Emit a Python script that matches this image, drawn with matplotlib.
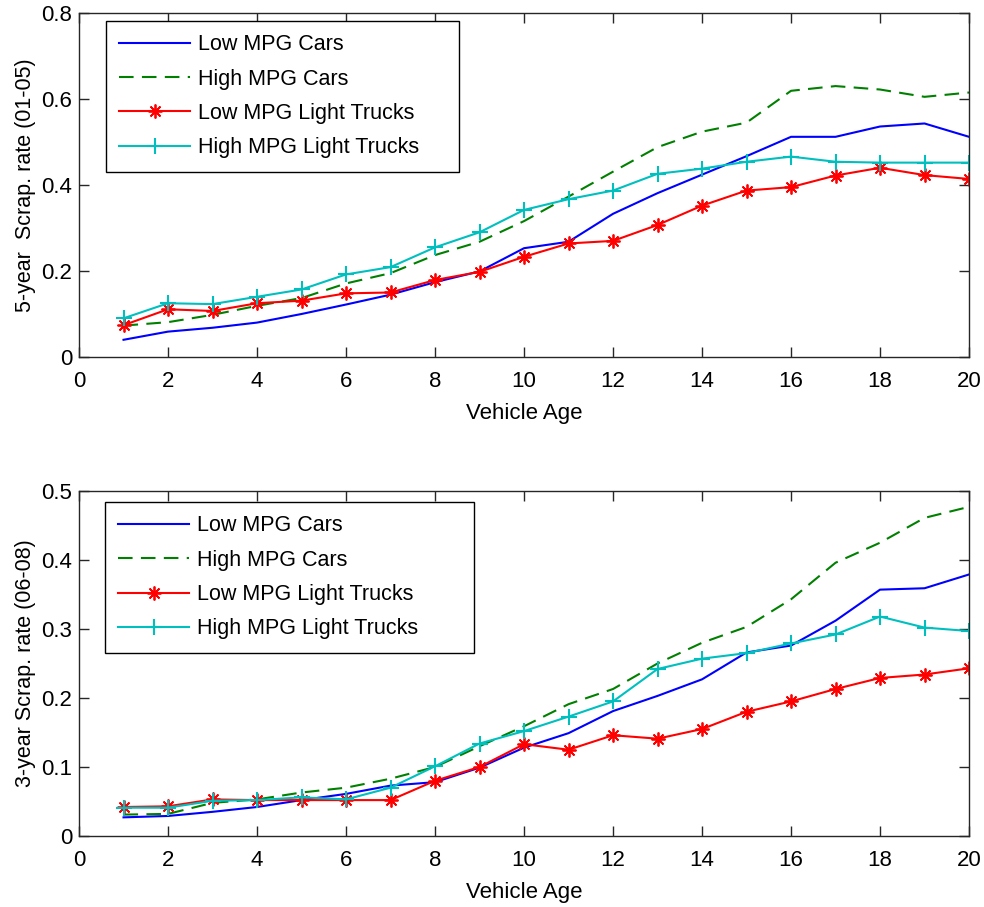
# scrappage rates by vehicle age, two periods

import numpy as np
import matplotlib.pyplot as plt

plt.rcParams['font.family'] = ['Liberation Sans', 'DejaVu Sans']

age = np.arange(1, 21)
series_names = ['Low MPG Cars', 'High MPG Cars', 'Low MPG Light Trucks', 'High MPG Light Trucks']

# 5-year scrappage rate, 2001-05
low_cars_0105 = [0.040, 0.059, 0.068, 0.080, 0.100, 0.122, 0.145, 0.174, 0.199, 0.253,
                 0.268, 0.333, 0.381, 0.424, 0.467, 0.512, 0.512, 0.536, 0.543, 0.512]
high_cars_0105 = [0.073, 0.081, 0.098, 0.119, 0.137, 0.171, 0.195, 0.237, 0.268, 0.316,
                  0.373, 0.431, 0.488, 0.524, 0.545, 0.619, 0.630, 0.622, 0.605, 0.615]
low_trucks_0105 = [0.074, 0.111, 0.107, 0.125, 0.131, 0.148, 0.150, 0.179, 0.198, 0.233,
                   0.264, 0.270, 0.307, 0.352, 0.387, 0.395, 0.422, 0.440, 0.423, 0.414]
high_trucks_0105 = [0.090, 0.125, 0.123, 0.140, 0.157, 0.192, 0.209, 0.255, 0.290, 0.342,
                    0.367, 0.387, 0.426, 0.438, 0.454, 0.466, 0.454, 0.452, 0.452, 0.452]

# 3-year scrappage rate, 2006-08
low_cars_0608 = [0.027, 0.029, 0.035, 0.042, 0.052, 0.061, 0.073, 0.078, 0.099, 0.128,
                 0.149, 0.181, 0.203, 0.227, 0.266, 0.276, 0.312, 0.357, 0.359, 0.379]
high_cars_0608 = [0.031, 0.032, 0.048, 0.053, 0.063, 0.070, 0.083, 0.100, 0.130, 0.159,
                  0.191, 0.213, 0.250, 0.280, 0.303, 0.343, 0.396, 0.425, 0.461, 0.477]
low_trucks_0608 = [0.042, 0.043, 0.053, 0.052, 0.052, 0.052, 0.052, 0.080, 0.100, 0.133,
                   0.125, 0.146, 0.141, 0.155, 0.180, 0.195, 0.213, 0.229, 0.234, 0.243]
high_trucks_0608 = [0.041, 0.041, 0.051, 0.052, 0.056, 0.053, 0.070, 0.101, 0.134, 0.152,
                    0.173, 0.195, 0.242, 0.257, 0.265, 0.279, 0.292, 0.318, 0.302, 0.297]

styles = [
    dict(color='#0000ff', ls='-'),
    dict(color='#008000', ls=(0, (7, 4))),
    dict(color='#ff0000', ls='-', marker=(8, 2, 0), ms=10, mew=1.3),
    dict(color='#00bfbf', ls='-', marker='+', ms=12, mew=1.5),
]

fig = plt.figure(figsize=(9.84, 9.07), dpi=100)
ax1 = fig.add_axes([0.0803, 0.6064, 0.9045, 0.3793])
ax2 = fig.add_axes([0.0803, 0.0783, 0.9045, 0.3804])

# legend boxes in axes fraction: (x0, y0, width, height)
panels = [
    (ax1, [low_cars_0105, high_cars_0105, low_trucks_0105, high_trucks_0105],
     '5-year  Scrap. rate (01-05)', 0.8, np.arange(0, 0.81, 0.2), (0.030, 0.5, 0.397, 0.477)),
    (ax2, [low_cars_0608, high_cars_0608, low_trucks_0608, high_trucks_0608],
     '3-year Scrap. rate (06-08)', 0.5, np.arange(0, 0.51, 0.1), (0.029, 0.5, 0.415, 0.968 - 0.5)),
]

for ax, data, ylab, ymax, yticks, box in panels:
    for vals, name, st in zip(data, series_names, styles):
        ax.plot(age, vals, lw=1.5, label=name, **st)
    ax.set_xlim(0, 20)
    ax.set_ylim(0, ymax)
    ax.set_xticks(np.arange(0, 21, 2))
    ax.set_yticks(yticks)
    ax.set_yticklabels(['0' if t == 0 else f'{t:g}' for t in yticks])
    ax.set_xlabel('Vehicle Age', fontsize=16, labelpad=8)
    ax.set_ylabel(ylab, fontsize=15.5, labelpad=4)
    ax.tick_params(direction='in', top=True, right=True, length=7, width=1,
                   labelsize=16, color='#262626')
    ax.tick_params(axis='x', pad=10)
    ax.tick_params(axis='y', pad=5)
    for sp in ax.spines.values():
        sp.set_color('#262626')
        sp.set_linewidth(1)
    leg = ax.legend(loc='upper left', bbox_to_anchor=box, mode='expand', borderaxespad=0,
                    fontsize=15.5, fancybox=False, framealpha=1, edgecolor='black',
                    handlelength=3.3, handletextpad=0.35, labelspacing=0.62,
                    borderpad=0.62)
    leg.get_frame().set_linewidth(1)

fig.savefig('out.png', dpi=100)
